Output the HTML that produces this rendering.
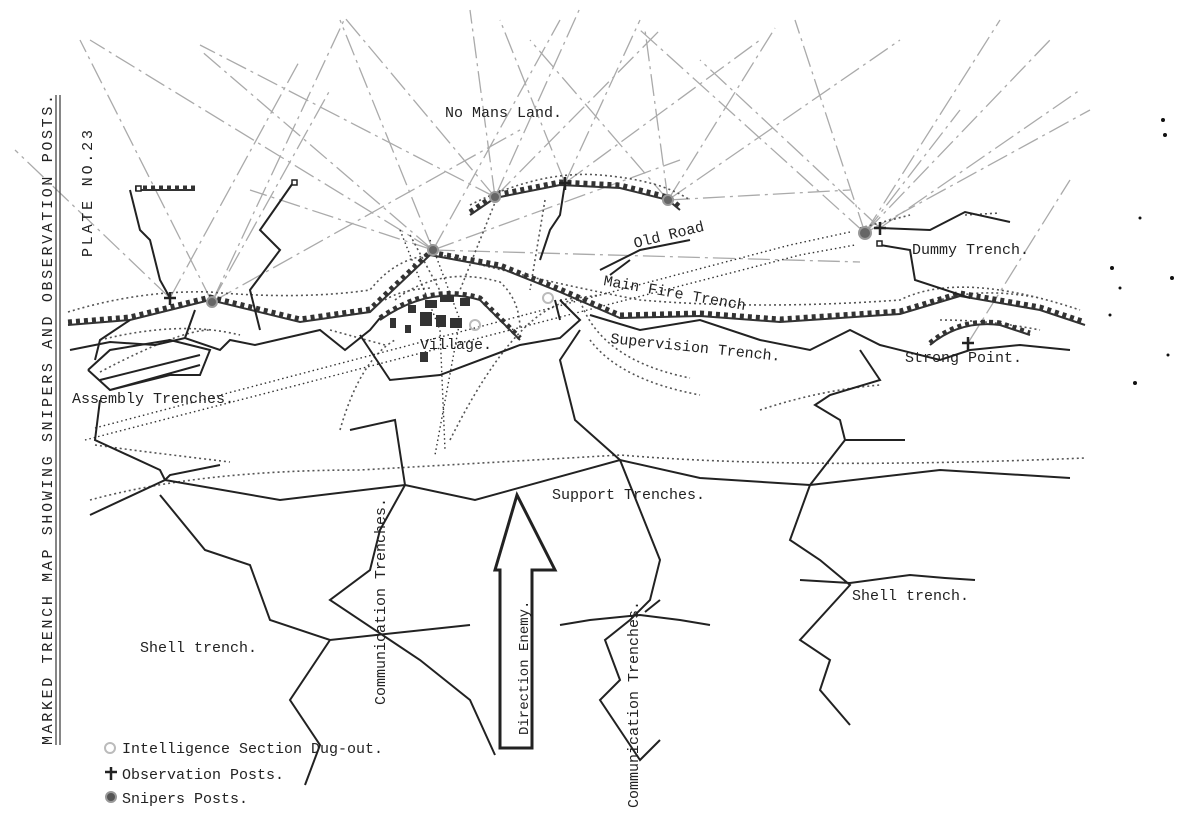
<!DOCTYPE html>
<html><head><meta charset="utf-8"><style>
html,body{margin:0;padding:0;background:#fff}
svg{display:block}
text{font-family:"Liberation Mono",monospace;fill:#222}
</style></head><body>
<svg width="1184" height="828" viewBox="0 0 1184 828" xmlns="http://www.w3.org/2000/svg">
<rect width="1184" height="828" fill="#fff"/>
<!-- sight lines -->
<g stroke="#aaa" stroke-width="1.3" fill="none" stroke-dasharray="22 5 3 5">
<path d="M212 302 L80 40 M212 302 L345 18 M212 302 L330 90 M212 302 L520 130"/>
<path d="M170 298 L15 150 M170 298 L300 60"/>
<path d="M433 250 L90 40 M433 250 L200 50 M433 250 L340 20 M433 250 L560 20 M433 250 L680 160 M433 250 L250 190"/>
<path d="M495 197 L200 45 M495 197 L345 18 M495 197 L470 10 M495 197 L580 8 M495 197 L660 30"/>
<path d="M565 183 L640 20 M565 183 L760 40 M565 183 L500 20"/>
<path d="M668 200 L645 30 M668 200 L775 28 M668 200 L900 40 M668 200 L530 40 M668 200 L850 190"/>
<path d="M865 233 L640 30 M865 233 L795 20 M865 233 L1000 20 M865 233 L1090 110 M865 233 L1050 40 M865 233 L960 110"/>
<path d="M880 228 L700 60 M880 228 L1080 90"/>
<path d="M968 343 L1070 180 M433 250 L860 262"/>
</g>
<!-- cross lines (wire) -->
<g stroke="#555" stroke-width="1.6" fill="none" stroke-dasharray="2 3">
<path d="M68 312 Q140 290 210 292 Q300 300 370 290 Q410 240 470 262 Q560 285 640 300 Q760 310 900 300 Q960 270 1080 310"/>
<path d="M470 205 Q540 170 600 175 Q660 180 690 200"/>
<path d="M860 228 L910 215 M965 215 L1000 213"/>
<path d="M395 300 Q440 265 500 282 Q520 300 520 330 M385 300 Q400 290 430 288"/>
<path d="M100 340 Q180 320 240 335 M100 372 Q180 330 210 330"/>
<path d="M450 440 Q520 300 580 300 Q600 360 690 378"/>
<path d="M340 430 Q360 360 395 340 M385 345 L330 330"/>
<path d="M95 445 Q130 450 230 462 M90 500 Q200 470 360 470 Q500 462 620 455 Q800 470 1085 458"/>
<path d="M760 410 Q820 390 880 385 M560 300 L600 295"/>
<path d="M590 340 Q620 380 700 395"/>
<path d="M928 305 Q970 285 1040 298 M940 320 Q990 320 1040 330"/>
<path d="M500 190 L460 290 M545 200 L530 290 M410 235 L445 300"/>
</g>
<!-- roads -->
<g stroke="#333" stroke-width="1.4" fill="none" stroke-dasharray="1.5 3">
<path d="M95 428 L790 245 L850 232 M85 440 L800 255 L855 245"/>
<path d="M400 230 L440 330 L445 450 M430 240 L460 320 L435 455"/>
</g>
<!-- crenellated fire trenches -->
<g fill="none" stroke="#333">
<g stroke-width="2">
<path id="mft" d="M68 325 L130 320 L210 300 L300 322 L370 312 L430 255 L500 268 L560 292 L620 318 L700 316 L780 322 L900 314 L960 296 L1040 310 L1085 325"/>
<path d="M470 215 L495 198 L560 185 L620 188 L668 200 L680 210"/>
<path d="M135 190 L195 190"/>
<path d="M380 320 Q430 285 480 300 L520 340"/>
<path d="M930 345 Q960 320 1000 325 L1030 335"/>
</g>
<g stroke-width="5" stroke-dasharray="4 4">
<path d="M68 322 L130 317 L210 297 L300 319 L370 309 L430 252 L500 265 L560 289 L620 315 L700 313 L780 319 L900 311 L960 293 L1040 307 L1085 322"/>
<path d="M470 212 L495 195 L560 182 L620 185 L668 197 L680 207"/>
<path d="M135 188 L195 188"/>
<path d="M380 318 Q430 283 480 298 L520 338"/>
<path d="M930 343 Q960 318 1000 323 L1030 333"/>
</g>
</g>
<!-- solid trenches -->
<g fill="none" stroke="#222" stroke-width="2">
<path d="M70 350 L110 342 L155 345 L185 338 L220 350 L230 340 L255 345 L320 330 L345 350 L370 330 L380 318"/>
<path d="M88 370 L110 390 L170 375 L200 375 L210 350 L170 340 L110 350 L88 370 M100 380 L200 355 M110 390 L200 365"/>
<path d="M130 320 L100 340 L95 360 M185 338 L195 310"/>
<path d="M100 400 L95 440 L160 470 L165 480 L90 515 M165 480 L280 500 L405 485 L475 500 L620 460 L700 478 L810 485 L940 470 L1070 478"/>
<path d="M165 480 L170 475 L220 465 M160 495 L205 550 L250 565 L270 620 L330 640 L470 625 M330 640 L290 700 L320 745 L305 785"/>
<path d="M405 485 L395 420 L350 430 M405 485 L380 530 L370 570 L330 600 L420 660 L470 700 L495 755"/>
<path d="M360 335 L390 380 L440 375 L520 345 L560 338 L580 320 L560 300"/>
<path d="M590 315 L640 330 L700 320 L760 340 L810 350 L850 330 L880 345 L940 360 L970 350 L1020 345 L1070 350"/>
<path d="M580 330 L560 360 L575 420 L620 460 L640 510 L660 560 L650 600 L630 620 L605 640 L620 680 L600 700 L640 760 L660 740"/>
<path d="M560 625 L590 620 L640 615 L680 620 L710 625 M645 612 L660 600"/>
<path d="M810 485 L790 540 L820 560 L850 585 L800 640 L830 660 L820 690 L850 725 M800 580 L850 583 L910 575 L945 578 L975 580"/>
<path d="M860 350 L880 380 L830 395 L815 405 L840 420 L845 440 L905 440 M845 440 L810 485"/>
<path d="M600 270 L640 250 L690 240 M630 260 L610 275"/>
<path d="M130 190 L140 230 L150 240 L160 280 L170 298 M295 180 L260 230 L280 250 L250 290 L260 330"/>
<path d="M880 245 L910 250 L915 280 L970 298 M880 228 L930 230 L965 212 L1010 222"/>
<path d="M565 183 L560 215 L550 230 L540 260 M555 300 L560 320"/>
</g>
<!-- village buildings -->
<g fill="#333">
<rect x="425" y="300" width="12" height="8"/><rect x="440" y="295" width="14" height="7"/><rect x="460" y="298" width="10" height="8"/>
<rect x="420" y="312" width="12" height="14"/><rect x="436" y="315" width="10" height="12"/><rect x="450" y="318" width="12" height="10"/>
<rect x="390" y="318" width="6" height="10"/><rect x="405" y="325" width="6" height="8"/><rect x="420" y="352" width="8" height="10"/>
<rect x="408" y="305" width="8" height="8"/>
</g>
<!-- markers -->
<g fill="#666" stroke="#999" stroke-width="2">
<circle cx="212" cy="302" r="5"/><circle cx="433" cy="250" r="5"/><circle cx="495" cy="197" r="5"/><circle cx="668" cy="200" r="5"/><circle cx="865" cy="233" r="6"/>
</g>
<g fill="none" stroke="#bbb" stroke-width="2"><circle cx="475" cy="325" r="5"/><circle cx="548" cy="298" r="5"/><circle cx="110" cy="748" r="5"/></g>
<g stroke="#222" stroke-width="2.5"><path d="M170 292 V305 M164 298 H176 M565 177 V190 M559 183 H571 M880 222 V235 M874 228 H886 M968 337 V350 M962 343 H974 M111 767 V780 M105 772 H117"/></g>
<g fill="#fff" stroke="#222" stroke-width="1.5"><rect x="136" y="186" width="5" height="5"/><rect x="292" y="180" width="5" height="5"/><rect x="877" y="241" width="5" height="5"/></g>
<circle cx="111" cy="797" r="5" fill="#555" stroke="#999" stroke-width="2"/>
<!-- arrow -->
<path d="M517 495 L555 570 L532 570 L532 748 L500 748 L500 570 L495 570 Z" fill="#fff" stroke="#222" stroke-width="3"/>
<text transform="translate(528,735) rotate(-90)" font-size="14">Direction Enemy.</text>
<!-- frame texts -->
<line x1="56" y1="95" x2="56" y2="745" stroke="#444" stroke-width="1.3"/>
<line x1="60" y1="95" x2="60" y2="745" stroke="#444" stroke-width="1.3"/>
<text transform="translate(52,745) rotate(-90)" font-size="15" textLength="650">MARKED TRENCH MAP SHOWING  SNIPERS AND OBSERVATION POSTS.</text>
<text transform="translate(92,257) rotate(-90)" font-size="15" textLength="127">PLATE NO.23</text>
<text x="445" y="117" font-size="15">No Mans Land.</text>
<text x="635" y="248" font-size="15" transform="rotate(-14 635 248)">Old Road</text>
<text x="603" y="285" font-size="15" transform="rotate(10 603 285)">Main Fire Trench</text>
<text x="610" y="343" font-size="15" transform="rotate(6 610 343)">Supervision Trench.</text>
<text x="912" y="254" font-size="15">Dummy Trench.</text>
<text x="905" y="362" font-size="15">Strong Point.</text>
<text x="420" y="349" font-size="15">Village.</text>
<text x="72" y="403" font-size="15">Assembly Trenches.</text>
<text x="552" y="499" font-size="15">Support Trenches.</text>
<text x="852" y="600" font-size="15">Shell trench.</text>
<text x="140" y="652" font-size="15">Shell trench.</text>
<text transform="translate(385,705) rotate(-90)" font-size="15">Communication Trenches.</text>
<text transform="translate(638,808) rotate(-90)" font-size="15">Communication Trenches.</text>
<text x="122" y="753" font-size="15">Intelligence Section Dug-out.</text>
<text x="122" y="779" font-size="15">Observation Posts.</text>
<text x="122" y="803" font-size="15">Snipers Posts.</text>
<!-- specks -->
<g fill="#111"><circle cx="1163" cy="120" r="2"/><circle cx="1165" cy="135" r="2"/><circle cx="1140" cy="218" r="1.5"/><circle cx="1112" cy="268" r="2"/><circle cx="1172" cy="278" r="2"/><circle cx="1120" cy="288" r="1.5"/><circle cx="1110" cy="315" r="1.5"/><circle cx="1135" cy="383" r="2"/><circle cx="1168" cy="355" r="1.5"/></g>
</svg>
</body></html>
